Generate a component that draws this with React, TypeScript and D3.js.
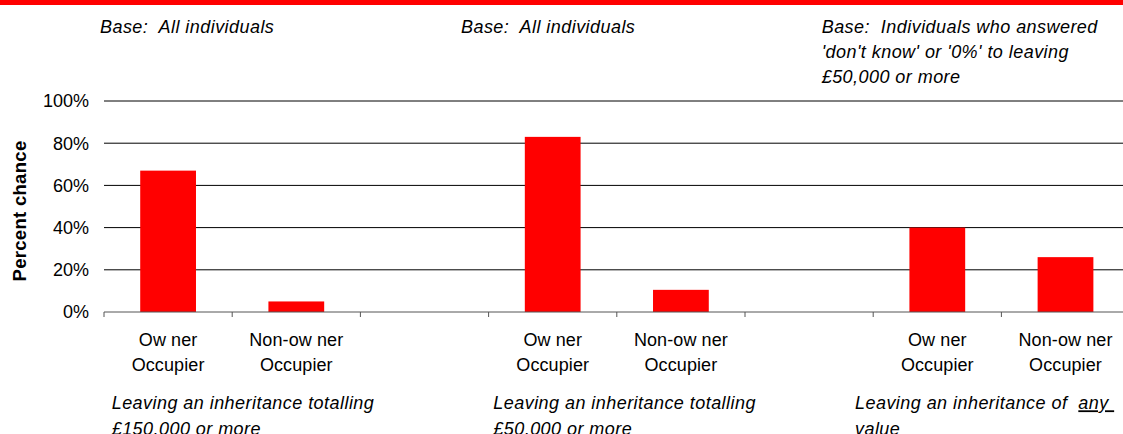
import React from "react";
import * as d3 from "d3";

// ---- data ----
const groups = ["£150,000 or more", "£50,000 or more", "any value"];
const tenureLabels = [
  ["Ow ner", "Occupier"],
  ["Non-ow ner", "Occupier"],
];
const ownerValues = [67, 83, 40];
const nonOwnerValues = [5, 10.5, 26];
const yTicks = [0, 20, 40, 60, 80, 100];
const baseNotes = [
  ["Base:  All individuals"],
  ["Base:  All individuals"],
  ["Base:  Individuals who answered", "'don't know' or '0%' to leaving", "£50,000 or more"],
];
const captions = [
  ["Leaving an inheritance totalling", "£150,000 or more"],
  ["Leaving an inheritance totalling", "£50,000 or more"],
  ["Leaving an inheritance of\u00A0 ", "value"],
];
const underlinedWord = "any\u00A0";

// ---- layout ----
const W = 1123;
const H = 434;
const plotLeft = 104;
const step = 128.2;
const yTop = 101;
const yBottom = 312;
const FONT = "'Liberation Sans', Arial, sans-serif";
const baseX = [100, 461, 821.7];
const captionX = [111.7, 493.3, 855];

export default function App() {
  const slots: string[] = [];
  groups.forEach((g, i) => {
    slots.push(`${i}|owner`, `${i}|non`);
    if (i < groups.length - 1) slots.push(`${i}|gap`);
  });
  const x = d3
    .scaleBand<string>()
    .domain(slots)
    .range([plotLeft, plotLeft + step * slots.length])
    .padding(0);
  const y = d3.scaleLinear().domain([0, 100]).range([yBottom, yTop]);
  const bw = x.bandwidth() * 0.435;

  const bars: { key: string; v: number }[] = [];
  groups.forEach((g, i) => {
    bars.push({ key: `${i}|owner`, v: ownerValues[i] });
    bars.push({ key: `${i}|non`, v: nonOwnerValues[i] });
  });

  const tickXs = slots.map((s) => x(s)!).concat([plotLeft + step * slots.length]);

  return (
    <svg
      width={W}
      height={H}
      style={{ position: "absolute", left: 0, top: 0, display: "block", background: "#fff" }}
      fontFamily={FONT}
    >
      <rect x={0} y={0} width={W} height={5} fill="#FF0000" />

      {/* base notes */}
      {baseNotes.map((lines, i) => (
        <text key={"b" + i} fontSize={18} fontStyle="italic" fill="#000" letterSpacing={0.45} style={{ whiteSpace: "pre" }}>
          {lines.map((l, j) => (
            <tspan key={j} x={baseX[i]} y={32.5 + j * 25.4}>
              {l}
            </tspan>
          ))}
        </text>
      ))}

      {/* gridlines */}
      {yTicks
        .filter((t) => t > 0)
        .map((t) => (
          <line key={"g" + t} x1={plotLeft} x2={W} y1={y(t)} y2={y(t)} stroke="#000" strokeWidth={1} />
        ))}

      {/* y tick labels */}
      {yTicks.map((t) => (
        <text key={"yl" + t} x={89} y={y(t)} dy="0.35em" textAnchor="end" fontSize={18} fill="#000">
          {t}%
        </text>
      ))}

      <text
        transform={`translate(25.5, 211) rotate(-90)`}
        textAnchor="middle"
        fontSize={18.5}
        fontWeight="bold"
        letterSpacing={0.3}
        fill="#000"
      >
        Percent chance
      </text>

      {/* bars */}
      {bars.map((b) => (
        <rect
          key={b.key}
          x={x(b.key)! + x.bandwidth() / 2 - bw / 2}
          y={y(b.v)}
          width={bw}
          height={y(0) - y(b.v)}
          fill="#FF0000"
        />
      ))}

      {/* x axis */}
      <line x1={plotLeft} x2={W} y1={y(0)} y2={y(0)} stroke="#555" strokeWidth={1} />
      {tickXs.map((tx, i) => (
        <line key={"t" + i} x1={tx} x2={tx} y1={y(0)} y2={y(0) + 5} stroke="#555" strokeWidth={1} />
      ))}

      {/* category labels */}
      {bars.map((b) => {
        const lbl = b.key.endsWith("owner") ? tenureLabels[0] : tenureLabels[1];
        const cx = x(b.key)! + x.bandwidth() / 2;
        return (
          <text key={"c" + b.key} textAnchor="middle" fontSize={18} fill="#000" letterSpacing={0.1}>
            <tspan x={cx} y={345.5}>
              {lbl[0]}
            </tspan>
            <tspan x={cx} y={371}>
              {lbl[1]}
            </tspan>
          </text>
        );
      })}

      {/* captions */}
      {captions.map((lines, i) => (
        <text key={"cap" + i} fontSize={18} fontStyle="italic" fill="#000" letterSpacing={0.45} style={{ whiteSpace: "pre" }}>
          <tspan x={captionX[i]} y={409.3}>
            {lines[0]}
            {i === 2 ? <tspan textDecoration="underline" style={{ textDecoration: "underline" }}>{underlinedWord}</tspan> : null}
          </tspan>
          <tspan x={captionX[i]} y={434.8}>
            {lines[1]}
          </tspan>
        </text>
      ))}
    </svg>
  );
}
